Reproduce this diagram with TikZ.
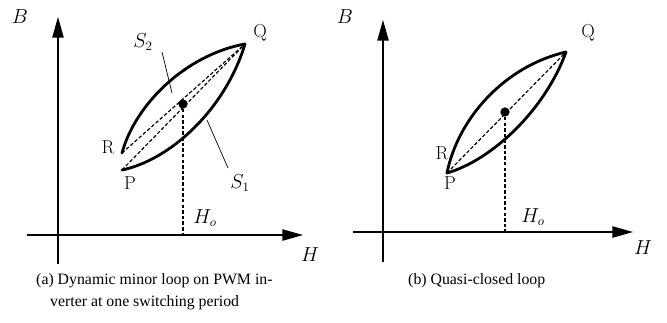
\documentclass[tikz,border=0pt]{standalone}
\usepackage[no-math]{fontspec}
\usepackage{tikz}
\newfontfamily\capfont{Liberation Serif}
\usetikzlibrary{arrows.meta, positioning, calc}

\begin{document}
\begin{tikzpicture}[x=0.03cm, y=-0.03cm,
    axis/.style={line width=1.2pt, -{Triangle[length=0.62cm, width=0.34cm]}},
    loopline/.style={line width=2.4pt, line cap=round, line join=round},
    guide/.style={line width=1pt, dash pattern=on 3pt off 1.8pt},
    leader/.style={line width=0.6pt},
    lbl/.style={inner sep=1pt, font=\fontsize{16}{19}\selectfont},
    dot/.style={circle, fill, inner sep=0pt, minimum size=0.28cm},
    caption/.style={inner sep=0pt, font=\capfont\fontsize{13.5}{18}\selectfont}
]
    \useasboundingbox (0,0) rectangle (667,322);

    % (a) dynamic minor loop
    \coordinate (aV0) at (58,264);
    \coordinate (aV1) at (58,17);
    \coordinate (aH0) at (27,235);
    \coordinate (aH1) at (303,235);
    \draw[axis] (aV0) -- (aV1);
    \draw[axis] (aH0) -- (aH1);

    \coordinate (aR) at (122,153);
    \coordinate (aP) at (122,170);
    \coordinate (aQ) at (245,44);
    \draw[loopline] (aR) .. controls (135,105) and (185,55) .. (aQ);
    \draw[loopline] (aP) .. controls (170,160) and (225,110) .. (aQ);
    \draw[guide] (aR) -- (aQ);
    \draw[guide] (aP) -- (aQ);

    \node[dot] (aM) at (183,104) {};
    \coordinate (aFoot) at (aM |- aH0);
    \draw[guide] (aM) -- (aFoot);

    \node[lbl] (aBlab) at (20,17) {$B$};
    \node[lbl] (aHlab) at (310,255) {$H$};
    \node[lbl] (aQlab) at (260,33) {Q};
    \node[lbl] (aRlab) at (108,147) {R};
    \node[lbl] (aPlab) at (130,183) {P};
    \node[lbl] (aHo) at (205,218) {$H_o$};
    \node[lbl] (aS2) at (143,42) {$S_2$};
    \node[lbl] (aS1) at (240,183) {$S_1$};

    % leaders
    \coordinate (aS2a) at (162,52);
    \coordinate (aS2b) at (172,93);
    \coordinate (aS1a) at (207,120);
    \coordinate (aS1b) at (228,168);
    \draw[leader] (aS2a) -- (aS2b);
    \draw[leader] (aS1a) -- (aS1b);

    \node[caption, anchor=base west] (capA1) at (36,284) {(a) Dynamic minor loop on PWM in-};
    \node[caption, anchor=base west] (capA2) at (50,306) {verter at one switching period};

    % (b) quasi-closed loop
    \coordinate (bV0) at (383,262);
    \coordinate (bV1) at (383,20);
    \coordinate (bH0) at (353,232);
    \coordinate (bH1) at (633,232);
    \draw[axis] (bV0) -- (bV1);
    \draw[axis] (bH0) -- (bH1);

    \coordinate (bP) at (447,173);
    \coordinate (bQ) at (566,52);
    \draw[loopline] (bP) .. controls (458,118) and (505,66) .. (bQ);
    \draw[loopline] (bP) .. controls (492,160) and (545,110) .. (bQ);
    \draw[guide] (bP) -- (bQ);

    \node[dot] (bM) at (505,112) {};
    \coordinate (bFoot) at (bM |- bH0);
    \draw[guide] (bM) -- (bFoot);

    \node[lbl] (bBlab) at (345,17) {$B$};
    \node[lbl] (bHlab) at (643,248) {$H$};
    \node[lbl] (bQlab) at (588,33) {Q};
    \node[lbl] (bRlab) at (442,153) {R};
    \node[lbl] (bPlab) at (450,183) {P};
    \node[lbl] (bHo) at (533,217) {$H_o$};

    \node[caption, anchor=base west] (capB) at (408,284) {(b) Quasi-closed loop};
\end{tikzpicture}
\end{document}
